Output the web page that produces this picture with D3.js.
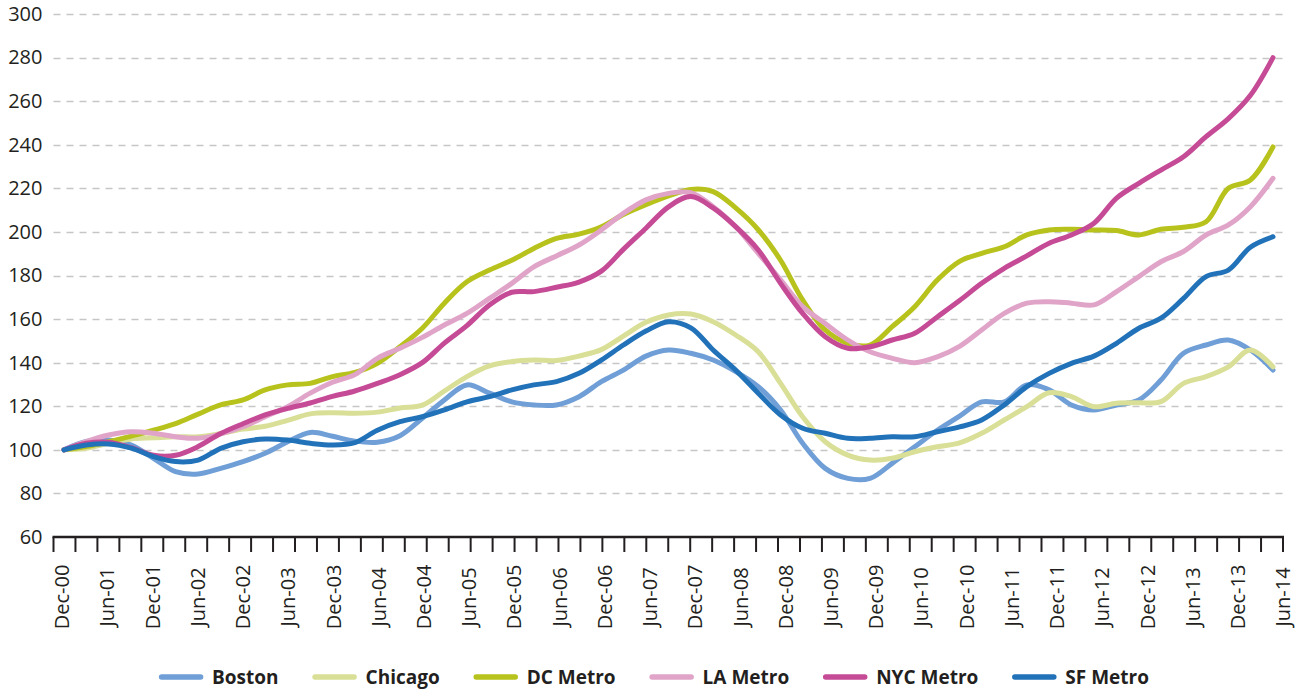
<!DOCTYPE html>
<html>
<head>
<meta charset="utf-8">
<script src="https://cdn.jsdelivr.net/npm/d3@7"></script>
<style>
  html, body { margin: 0; padding: 0; background: #fff; }
  #chart { width: 1304px; height: 690px; }
  .axis-text { font-family: "Open Sans", sans-serif; font-size: 20px; fill: #231f20; }
  .legend-label { font-family: "Open Sans", sans-serif; font-size: 19px; font-weight: 700; fill: #231f20; }
  .grid line { stroke: #c6c6c6; stroke-width: 1.5; stroke-dasharray: 7 6; }
  .series { fill: none; stroke-width: 5; stroke-linecap: round; stroke-linejoin: round; }
</style>
</head>
<body>
<div id="chart"></div>
<script>
// quarterly observations, Dec-00 .. Jun-14 (index = 100 at Dec-00)
const SERIES_NAMES = ["Boston", "Chicago", "DC Metro", "LA Metro", "NYC Metro", "SF Metro"];
const SERIES_COLORS = ["#6f9fd6", "#d9df96", "#b8c21c", "#e0a4c9", "#c64b96", "#2272b9"];

const boston = [
  100, 103.8, 104.5, 102.2, 96.1, 90, 88.9, 91.5, 94.6, 98.4,
  103.7, 108, 106.2, 104, 103.5, 106.5, 114.5, 122.9, 129.8, 126,
  122, 120.6, 120.6, 124.4, 131.3, 136.6, 143, 145.8, 144.3, 141.2,
  135.9, 129, 118.3, 103, 91.5, 86.9, 86.9, 93.8, 101.4, 109,
  115.5, 122, 122, 129.8, 127.5, 120.6, 118.3, 120.6, 122.9, 132,
  144.3, 148.1, 150.4, 145.8, 136.6,
];
const chicago = [
  100, 100.7, 103, 105, 105.5, 106, 106, 107.5, 109.5, 110.8,
  113.5, 116.5, 117, 116.8, 117.3, 119.2, 120.5, 127, 133.6, 138.5,
  140.5, 141.2, 141, 143, 146, 152.2, 158.5, 161.9, 162.3, 158.8,
  152.7, 145, 130.5, 115.2, 103.7, 97.6, 95.3, 96.1, 99.1, 101.4,
  103.2, 107.6, 113.7, 119.8, 126.2, 124.4, 119.8, 121.4, 121.6, 122.1,
  130.5, 133.6, 138.1, 145.8, 138.1,
];
const dcMetro = [
  100, 101.5, 103.7, 106.3, 109, 112, 116.4, 120.6, 122.9, 127.5,
  129.8, 130.5, 133.6, 135.5, 139.7, 147.3, 155.8, 167.3, 177.1, 182.5,
  187, 192.4, 197, 199, 202.4, 208, 212.5, 216.5, 219.5, 218.5,
  211, 201, 187, 168.8, 155, 148.9, 148.1, 156.5, 165.7, 177.9,
  186.5, 190.2, 193.2, 198.6, 200.9, 201.2, 200.9, 200.6, 198.6, 201.2,
  202.1, 204.7, 220, 223.8, 239,
];
const laMetro = [
  100, 103.8, 106.8, 108.3, 107.6, 106, 105.3, 107.3, 110.6, 115.2,
  119.8, 126, 131, 134.5, 142, 146.6, 151.6, 157.3, 162.6, 169.5,
  176.4, 184, 189, 194, 200.9, 208.5, 214.7, 217.7, 218, 211.6,
  202.4, 190.2, 178, 165.7, 158, 150.4, 145, 142, 140, 142.7,
  147.5, 155, 162.6, 167.3, 168, 167.3, 166.5, 172.6, 179.5, 186.3,
  191, 198.6, 203.2, 211.6, 224.6,
];
const nycMetro = [
  100, 103, 103.5, 101, 97.5, 97.5, 101.5, 107.5, 112, 116,
  119, 121.5, 124.5, 127, 130.5, 134.5, 140, 149, 157, 166.5,
  172.3, 172.6, 174.6, 177, 182, 192, 201.7, 211.5, 216.2, 211,
  202.4, 191.7, 176.4, 162.6, 151.9, 146.6, 147.3, 150.4, 153.5, 161,
  168.5, 176.4, 183.3, 189, 194.8, 198.6, 204, 215.5, 222.3, 228.4,
  234.5, 243.7, 252, 262.7, 280,
];
const sfMetro = [
  100, 102.2, 102.7, 100.8, 96.9, 94.6, 95.3, 100.7, 103.7, 105,
  104.5, 103, 102.2, 103.3, 109, 112.9, 115.2, 118.3, 122, 124.4,
  127.5, 129.8, 131.3, 135.1, 141.2, 148.1, 154.5, 158.8, 156, 145.8,
  136.6, 126, 116, 109.9, 107.6, 105.3, 105.3, 106, 106, 108.3,
  110.5, 113.7, 120.6, 129, 135.1, 139.7, 143, 148.9, 155.8, 160.4,
  169.5, 179.5, 182.5, 193, 197.8,
];

const TICK_LABELS = [
  "Dec-00", "Jun-01", "Dec-01", "Jun-02", "Dec-02", "Jun-03", "Dec-03",
  "Jun-04", "Dec-04", "Jun-05", "Dec-05", "Jun-06", "Dec-06", "Jun-07",
  "Dec-07", "Jun-08", "Dec-08", "Jun-09", "Dec-09", "Jun-10", "Dec-10",
  "Jun-11", "Dec-11", "Jun-12", "Dec-12", "Jun-13", "Dec-13", "Jun-14",
];
const Y_TICKS = [60, 80, 100, 120, 140, 160, 180, 200, 220, 240, 260, 280, 300];

const quarterDates = d3.timeMonth.range(new Date(2000, 11, 1), new Date(2014, 5, 2), 3);

function renderChart() {
  const width = 1304;
  const height = 690;
  const plotLeft = 53.5;
  const plotRight = 1283;
  const svg = d3.select("#chart").append("svg").attr("width", width).attr("height", height);

  const x = d3
    .scaleTime()
    .domain([quarterDates[0], quarterDates[quarterDates.length - 1]])
    .range([64, 1273]);

  const y = d3.scaleLinear().domain([60, 300]).range([537, 14]);

  // dashed grid
  svg
    .append("g")
    .attr("class", "grid")
    .selectAll("line")
    .data(Y_TICKS.filter((d) => d > 60))
    .join("line")
    .attr("x1", plotLeft)
    .attr("x2", plotRight)
    .attr("y1", (d) => Math.round(y(d)) + 0.5)
    .attr("y2", (d) => Math.round(y(d)) + 0.5);

  // y labels
  svg
    .append("g")
    .attr("transform", `translate(${plotLeft}, 0)`)
    .call(d3.axisLeft(y).tickValues(Y_TICKS).tickSize(0).tickPadding(11))
    .call((g) => g.select(".domain").remove())
    .call((g) => g.selectAll("text").attr("class", "axis-text").attr("font-size", null).attr("font-family", null));

  // x axis: quarterly tick marks, half-year labels
  const tickScale = d3.scaleLinear().domain([0, 56]).range([plotLeft, plotRight]);
  const axisG = svg.append("g").attr("transform", "translate(0, 537)");
  axisG
    .append("line")
    .attr("x1", plotLeft - 1)
    .attr("x2", plotRight + 1)
    .attr("stroke", "#231f20")
    .attr("stroke-width", 2.5);
  axisG
    .selectAll(".tick-mark")
    .data(d3.range(57))
    .join("line")
    .attr("class", "tick-mark")
    .attr("x1", (d) => tickScale(d))
    .attr("x2", (d) => tickScale(d))
    .attr("y1", 0)
    .attr("y2", 15)
    .attr("stroke", "#231f20")
    .attr("stroke-width", 2);

  const labelScale = d3.scalePoint().domain(TICK_LABELS).range([62, 1283]);
  svg
    .append("g")
    .selectAll("text")
    .data(TICK_LABELS)
    .join("text")
    .attr("class", "axis-text")
    .attr("text-anchor", "middle")
    .attr("dy", "0.36em")
    .attr("transform", (d) => `translate(${labelScale(d)}, 597) rotate(-90)`)
    .text((d) => d);

  // series
  const seriesValues = [boston, chicago, dcMetro, laMetro, nycMetro, sfMetro];
  const line = d3
    .line()
    .x((d, i) => x(quarterDates[i]))
    .y((d) => y(d))
    .curve(d3.curveCatmullRom.alpha(0.5));

  svg
    .append("g")
    .selectAll("path")
    .data(seriesValues)
    .join("path")
    .attr("class", "series")
    .attr("stroke", (d, i) => SERIES_COLORS[i])
    .attr("d", line);

  // legend, centred under the chart
  const legend = svg.append("g").attr("transform", "translate(0, 677)");
  const items = legend
    .selectAll("g")
    .data(SERIES_NAMES)
    .join("g");
  items
    .append("line")
    .attr("x1", 2.5)
    .attr("x2", 41.5)
    .attr("stroke", (d, i) => SERIES_COLORS[i])
    .attr("stroke-width", 5.5)
    .attr("stroke-linecap", "round");
  items
    .append("text")
    .attr("class", "legend-label")
    .attr("x", 53)
    .attr("dy", "0.35em")
    .text((d) => d);

  const widths = items.nodes().map((node) => 53 + node.querySelector("text").getComputedTextLength());
  const gap = 34;
  const total = d3.sum(widths) + gap * (widths.length - 1);
  let cursor = width / 2 - total / 2 + 2;
  items.attr("transform", (d, i) => {
    const pos = cursor;
    cursor += widths[i] + gap;
    return `translate(${pos}, 0)`;
  });
}

renderChart();
</script>
</body>
</html>
